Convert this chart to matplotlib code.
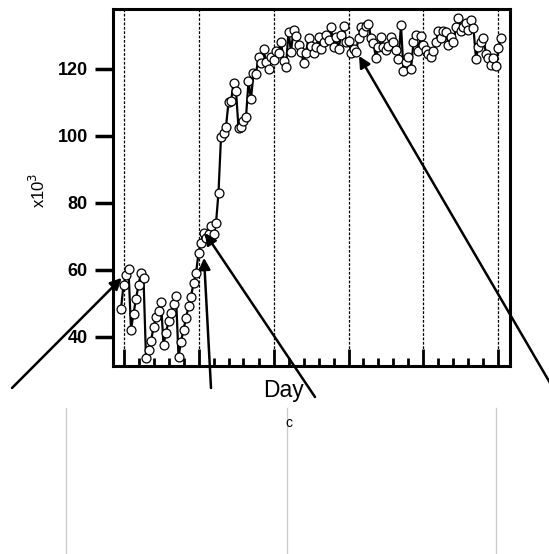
import numpy as np
import matplotlib.pyplot as plt
from matplotlib.lines import Line2D
from matplotlib.ticker import FixedLocator

plt.rcParams['font.family'] = ['Liberation Sans', 'DejaVu Sans']

# Valores (x10^3), un punto por día
valores = [
    48.4, 55.5, 58.5, 60.3, 42.1, 46.9, 51.3, 55.5, 59.2, 57.6,
    33.8, 36.1, 38.8, 42.8, 45.8, 47.6, 50.5, 37.6, 41.3, 44.6,
    47.1, 49.9, 52.2, 34.1, 38.6, 42.1, 45.7, 49.1, 52.0, 56.0,
    59.0, 65.0, 68.0, 71.0, 69.5, 70.7, 73.1, 70.7, 73.9, 83.1,
    99.6, 101.0, 102.8, 110.0, 110.3, 115.7, 113.5, 102.3, 102.6, 104.5,
    105.6, 116.3, 111.0, 118.8, 118.5, 123.7, 121.7, 125.9, 122.2, 119.9,
    123.7,
    122.7, 125.5, 124.9, 128.1, 122.5, 120.7, 131.1, 125.2, 131.6, 129.9,
    127.2, 125.2, 121.9, 124.9, 129.2, 126.9, 124.9, 126.5, 129.6, 125.9,
    128.1, 130.1, 128.7, 132.4, 126.5, 129.6, 125.9, 130.1, 132.8, 127.9,
    128.4, 124.9,
    125.9, 125.2, 129.2, 132.4, 131.1, 132.8, 133.4, 129.2, 127.7, 123.2,
    126.5, 129.5, 126.7, 125.7, 126.9, 129.6, 127.9, 125.7, 122.9, 133.1,
    119.5, 122.2, 123.7, 119.9, 128.1, 130.1, 125.5,
    129.9, 127.2, 125.7, 124.4, 123.7, 125.4, 128.1, 131.3, 129.2, 131.3,
    131.1, 127.2, 129.6, 128.1, 132.6, 135.1, 131.3, 132.6, 133.6, 131.6,
    134.6, 132.1, 123.0, 126.7, 128.0, 129.3, 124.4, 123.2, 121.2, 123.2,
    121.0, 126.2, 129.3,
]
dias = np.arange(len(valores))

# Puntos señalados por las flechas (día, valor) y origen de cada flecha (px de figura)
flechas_xy = [(0.3, 57.6), (33.2, 63.6), (33.6, 71.0), (95.2, 123.9)]
flechas_origen = [(12, 166), (211, 166), (315, 157), (560, 154)]

W, H = 549, 554
fig = plt.figure(figsize=(W / 100, H / 100), dpi=100)
ax = fig.add_axes([113 / W, 1 - 366 / H, (510 - 113) / W, (366 - 9) / H])

ax.plot(dias, valores, color='black', lw=1.6, marker='o', ms=6.4,
        mfc='white', mec='black', mew=0.9, zorder=3)

ax.set_xlim(-3.2, 155.6)
ax.set_ylim(31.3, 137.9)

# Eje X: ticks hacia dentro, sin etiquetas
mayores = np.arange(1, 152, 30)
ax.xaxis.set_major_locator(FixedLocator(mayores))
ax.xaxis.set_minor_locator(FixedLocator(np.arange(1, 155, 6)))
ax.tick_params(axis='x', which='major', direction='in', length=12, width=2,
               labelbottom=False, top=False)
ax.tick_params(axis='x', which='minor', direction='in', length=6, width=2, top=False)
for m in mayores:
    ax.axvline(m, color='black', lw=0.9, ls=(0, (2.2, 1.3)), zorder=1)

# Eje Y
ax.set_yticks([40, 60, 80, 100, 120])
ax.tick_params(axis='y', direction='out', length=13, width=2.5, pad=5,
               labelsize=13, right=False)
for lab in ax.get_yticklabels():
    lab.set_fontweight('bold')
ax.set_ylabel('x10$^{3}$', fontsize=12)
ax.yaxis.set_label_coords(-0.164, 0.493)

for s in ax.spines.values():
    s.set_linewidth(2.2)

fig.text(283 / W, 1 - 390 / H, 'Day', ha='center', va='center', fontsize=16.5)

# Flechas
for xy, org in zip(flechas_xy, flechas_origen):
    ax.annotate('', xy=xy, xycoords='data', xytext=org, textcoords='figure pixels',
                arrowprops=dict(arrowstyle='-|>', lw=1.8, color='black',
                                mutation_scale=17, shrinkA=0, shrinkB=0),
                annotation_clip=False, zorder=5)

# Parte inferior recortada (tabla)
for xp in [66, 287, 496]:
    fig.add_artist(Line2D([xp / W, xp / W], [0, 1 - 408 / H], color='#cccccc', lw=1))
fig.text(285 / W, 1 - 423 / H, 'c', ha='left', va='center', fontsize=10)

fig.savefig('out.png', dpi=100)
